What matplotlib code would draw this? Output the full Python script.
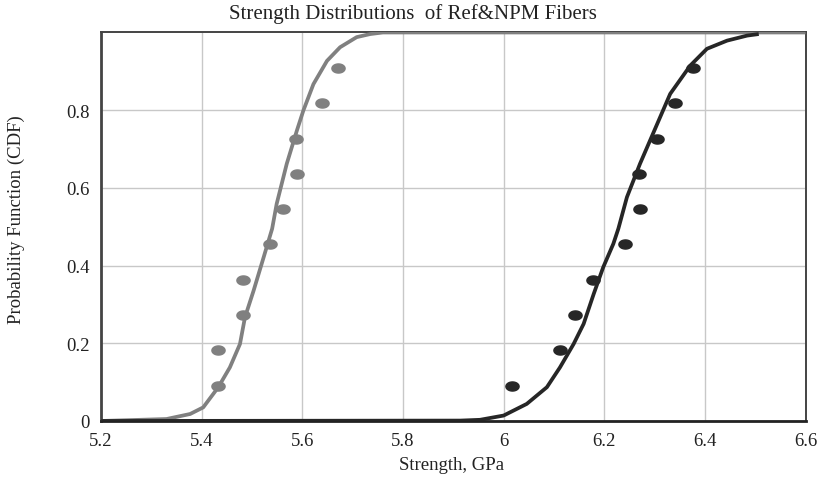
import numpy as np
import matplotlib
matplotlib.use("Agg")
import matplotlib.pyplot as plt
from matplotlib.path import Path

# ---- data ----
ref_pts_x = [5.432, 5.432, 5.483, 5.483, 5.536, 5.561, 5.589, 5.588, 5.640, 5.670]
npm_pts_x = [6.016, 6.113, 6.142, 6.177, 6.242, 6.271, 6.270, 6.305, 6.341, 6.376]
pts_y = [0.091, 0.182, 0.273, 0.364, 0.455, 0.545, 0.636, 0.727, 0.818, 0.909]

ref_curve_x = [5.20, 5.330, 5.377, 5.403, 5.433, 5.456, 5.476, 5.486, 5.503, 5.523,
               5.540, 5.549, 5.569, 5.589, 5.602, 5.622, 5.649, 5.675, 5.708, 5.735,
               5.76, 6.60]
ref_curve_y = [0.0, 0.005, 0.018, 0.035, 0.087, 0.138, 0.198, 0.267, 0.335, 0.421,
               0.495, 0.559, 0.662, 0.747, 0.799, 0.867, 0.927, 0.962, 0.988, 0.996,
               1.0, 1.0]

npm_curve_x = [5.20, 5.914, 5.953, 6.000, 6.046, 6.086, 6.112, 6.139, 6.159, 6.179,
               6.198, 6.218, 6.228, 6.245, 6.271, 6.305, 6.331, 6.371, 6.404, 6.444,
               6.484, 6.507]
npm_curve_y = [0.0, 0.001, 0.003, 0.014, 0.044, 0.087, 0.138, 0.198, 0.250, 0.327,
               0.396, 0.456, 0.495, 0.576, 0.662, 0.764, 0.842, 0.915, 0.958, 0.979,
               0.992, 0.996]

x_ticks = [5.2, 5.4, 5.6, 5.8, 6.0, 6.2, 6.4, 6.6]
x_tick_labels = ["5.2", "5.4", "5.6", "5.8", "6", "6.2", "6.4", "6.6"]
y_ticks = [0, 0.2, 0.4, 0.6, 0.8]
y_tick_labels = ["0", "0.2", "0.4", "0.6", "0.8"]

title_text = "Strength Distributions  of Ref&NPM Fibers"
x_label = "Strength, GPa"
y_label = "Probability Function (CDF)"

# ---- style ----
plt.rcParams['font.family'] = ['Liberation Serif', 'DejaVu Serif']
GREY = '#808080'
DARK = '#262626'
TXT = '#222222'

fig = plt.figure(figsize=(8.23, 4.81), dpi=100)
ax = fig.add_axes([0.1228, 0.1227, 0.856, 0.8077])

# ellipse marker (wider than tall)
t = np.linspace(0, 2 * np.pi, 40)
ell = Path(np.column_stack([1.45 * np.cos(t), np.sin(t)]), closed=True)

ax.plot(ref_curve_x, ref_curve_y, color=GREY, lw=2.7, zorder=3, solid_capstyle='butt')
ax.plot(npm_curve_x, npm_curve_y, color=DARK, lw=2.7, zorder=4, solid_capstyle='butt')
ax.plot(ref_pts_x, pts_y, ls='none', marker=ell, ms=9.5, color=GREY, mec=GREY, zorder=5)
ax.plot(npm_pts_x, pts_y, ls='none', marker=ell, ms=9.5, color=DARK, mec=DARK, zorder=5)

ax.set_xlim(5.2, 6.6)
ax.set_ylim(0, 1.0)
ax.set_xticks(x_ticks)
ax.set_xticklabels(x_tick_labels)
ax.set_yticks(y_ticks)
ax.set_yticklabels(y_tick_labels)
ax.tick_params(axis='both', length=0, labelsize=13.5, colors=TXT)
ax.tick_params(axis='x', pad=8)
ax.tick_params(axis='y', pad=8)
ax.grid(True, color='#c8c8c8', lw=1.0)
ax.set_axisbelow(True)

for s in ['top', 'right']:
    ax.spines[s].set_color('#444444')
    ax.spines[s].set_linewidth(1.4)
ax.spines['left'].set_color('#444444')
ax.spines['left'].set_linewidth(2.0)
ax.spines['bottom'].set_color('#222222')
ax.spines['bottom'].set_linewidth(2.0)

fig.text(413 / 823, 1 - 14 / 481, title_text, fontsize=15, ha='center', va='center', color=TXT)
fig.text(452 / 823, 1 - 466 / 481, x_label, fontsize=13.5, ha='center', va='center', color=TXT)
fig.text(16.5 / 823, 1 - 220 / 481, y_label, fontsize=13.5, ha='center', va='center',
         rotation=90, color=TXT)

fig.savefig("out.png", dpi=100)
